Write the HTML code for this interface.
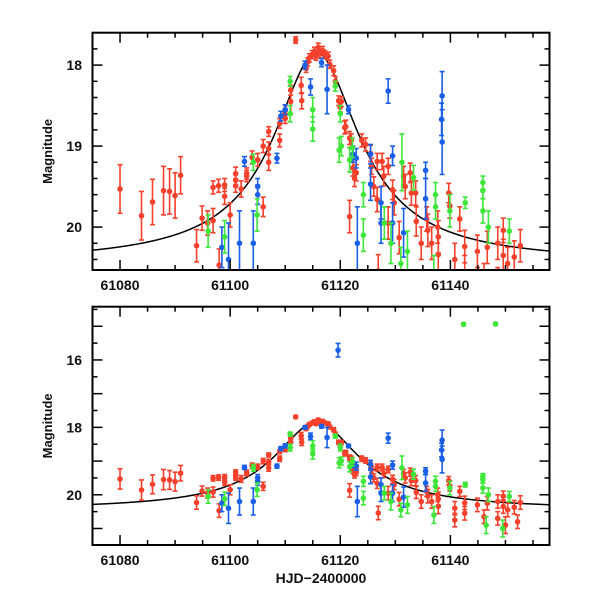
<!DOCTYPE html>
<html><head><meta charset="utf-8"><style>
html,body{margin:0;padding:0;background:#fff;}
svg text{font-family:"Liberation Sans",Arial,sans-serif;font-weight:bold;fill:#111;}
</style></head><body>
<svg id="chart" width="600" height="600" xmlns="http://www.w3.org/2000/svg"></svg>
<script>
// ---- data: [HJD-2400000, magnitude, error] ----
const redT=[61080,61083.9,61085.9,61087.9,61089,61090,61091,61093.9,61094.9,61095.9,61096.9,61096.9,61097.9,61098,61099,61099,61100,61101,61101,61101,61102,61103,61103,61104,61105,61106,61106,61107,61107,61107,61109,61109,61110,61110,61111,61111,61111.9,61112.9,61113,61113.8,61114.1,61114.4,61114.9,61115.3,61115.6,61116,61116.3,61116.8,61117.2,61117.8,61118.1,61118.8,61119.1,61119.7,61120,61120.2,61120.8,61121,61121.7,61121.7,61122,61122.3,61122.6,61122.9,61123.9,61124.6,61125.5,61125.7,61126.1,61126.7,61126.7,61126.9,61127.6,61127.9,61128.7,61128.7,61129.5,61129.8,61130.7,61131.5,61131.8,61132.7,61132.9,61133.7,61133.8,61134.7,61135.7,61135.9,61136.6,61137.7,61137.8,61137.8,61139.7,61139.9,61140.8,61140.8,61141.7,61142.6,61142.6,61144.9,61146.1,61146.7,61148.6,61148.6,61149.6,61149.6,61150,61150.4,61151.6,61152.7,61152.2];
const redM=[19.53,19.86,19.69,19.55,19.56,19.61,19.36,20.23,19.89,19.95,19.51,19.92,19.49,20.47,19.48,19.62,19.85,19.34,19.42,19.49,19.53,19.34,19.37,19.14,19.17,19.0,19.75,18.82,19.03,19.2,18.72,18.93,18.66,18.56,18.31,18.45,17.69,18.25,18.44,18.04,17.96,17.91,17.87,17.83,17.89,17.78,17.86,17.82,17.87,17.89,17.99,18.07,18.2,18.44,18.52,18.45,18.77,18.76,18.9,19.87,18.93,19.27,19.4,19.33,18.93,18.98,19.09,19.25,19.5,19.19,19.66,20.54,19.19,19.37,19.25,19.95,19.54,19.7,20.13,19.37,19.5,19.33,19.58,19.58,19.93,20.2,19.9,20.04,20.2,20.0,20.34,20.12,19.58,19.74,20.4,20.75,19.9,20.24,20.55,20.3,20.65,20.25,20.2,20.7,20.04,20.35,20.9,20.45,20.37,20.23,20.8];
const redE=[0.3,0.3,0.28,0.3,0.28,0.28,0.23,0.2,0.15,0.15,0.08,0.15,0.08,0.2,0.08,0.1,0.15,0.08,0.08,0.08,0.1,0.07,0.07,0.08,0.08,0.08,0.12,0.06,0.08,0.1,0.06,0.08,0.06,0.06,0.06,0.15,0.04,0.1,0.1,0.05,0.05,0.05,0.05,0.05,0.05,0.05,0.05,0.05,0.05,0.05,0.05,0.06,0.06,0.06,0.06,0.06,0.08,0.08,0.08,0.2,0.08,0.1,0.1,0.1,0.08,0.08,0.1,0.1,0.12,0.1,0.15,0.2,0.1,0.12,0.1,0.2,0.12,0.15,0.2,0.12,0.15,0.12,0.15,0.15,0.18,0.2,0.15,0.2,0.2,0.2,0.22,0.2,0.12,0.15,0.2,0.2,0.15,0.2,0.2,0.2,0.2,0.2,0.2,0.2,0.15,0.2,0.25,0.2,0.2,0.2,0.2];
const blueT=[61098.5,61099.7,61101.7,61104.2,61105,61105,61102.6,61108.5,61109.2,61110,61113.6,61114.6,61116.6,61117.6,61119.6,61121.5,61122.3,61122.9,61123.1,61125.5,61125.5,61127.4,61127.4,61128.7,61129.5,61129.5,61131.5,61135.5,61135.5,61138.5,61138.4,61138.5];
const blueM=[20.25,20.4,20.2,20.2,19.5,19.6,19.19,19.15,18.63,18.55,18.0,18.27,17.97,18.3,15.71,18.55,19.1,19.15,20.2,19.1,19.47,19.7,19.95,18.32,19.12,19.95,20.07,19.3,19.65,18.38,18.67,18.95];
const blueE=[0.25,0.45,0.4,0.4,0.1,0.12,0.06,0.06,0.06,0.06,0.05,0.1,0.05,0.3,0.2,0.05,0.1,0.12,0.45,0.12,0.2,0.2,0.25,0.15,0.12,0.25,0.3,0.1,0.25,0.3,0.2,0.4];
const greenT=[61096,61099,61104.2,61104.9,61110.9,61110.9,61115,61115,61119.1,61119.8,61120,61121.7,61120.2,61122.2,61124.2,61124.2,61128,61129.2,61131.2,61132.2,61133.3,61137.3,61137.3,61139.9,61142.7,61142.4,61145.9,61145.9,61145.9,61146.9,61146.5,61148.2,61149.5,61150.7,61137,61131];
const greenM=[20.05,20.12,19.2,19.85,18.2,18.6,18.55,18.79,18.26,19.05,18.6,19.17,19.0,19.02,19.6,20.1,19.95,20.2,19.2,20.3,19.39,19.6,19.75,19.8,19.7,14.94,19.45,19.55,19.8,20.0,20.9,14.93,21.0,20.05,20.6,20.45];
const greenE=[0.2,0.2,0.1,0.2,0.06,0.1,0.15,0.15,0.06,0.15,0.1,0.15,0.12,0.12,0.15,0.2,0.2,0.25,0.35,0.25,0.15,0.15,0.15,0.2,0.07,0.04,0.08,0.1,0.15,0.2,0.25,0.04,0.25,0.15,0.25,0.2];
// model parameters (smooth fitted curve)
const modelT0=61115.7, modelBase=20.45, modelDepth=2.6, modelWidth=9.0, modelPow=0.9;
const xTickLabels=[61080,61100,61120,61140];
const topYTickLabels=[18,19,20];
const botYTickLabels=[16,18,20];

const NS="http://www.w3.org/2000/svg";
const svg=document.getElementById('chart');
function mk(tag,attrs,parent){const e=document.createElementNS(NS,tag);for(const k in attrs)e.setAttribute(k,attrs[k]);(parent||svg).appendChild(e);return e;}
const COLORS={red:'#f5402c',blue:'#1a5fe8',green:'#3ee63a'};

function panel(name,top,bottom,yMin,yMax,minorStep,yLabels,showXTitle){
  const L=92.5,R=549.5,xMin=61075,xMax=61158;
  const xs=t=>L+(t-xMin)/(xMax-xMin)*(R-L);
  const ys=m=>top+(m-yMin)/(yMax-yMin)*(bottom-top);
  const g=mk('g',{});
  
  
  const cid='clip-'+name;
  const cp=mk('clipPath',{id:cid},g);mk('rect',{x:L,y:top,width:R-L,height:bottom-top},cp);
  const plot=mk('g',{'clip-path':'url(#'+cid+')'},g);
  let d='';
  for(let t=xMin;t<=xMax;t+=0.25){const q=(t-modelT0)/modelWidth;const m=modelBase-modelDepth/Math.pow(1+q*q,modelPow);d+=(d?'L':'M')+xs(t).toFixed(2)+','+ys(m).toFixed(2);}
  const curve=mk('path',{d:d,fill:'none',stroke:'#000','stroke-width':1.5},plot);
  
  
  const sets=[['red',redT,redM,redE],['blue',blueT,blueM,blueE],['green',greenT,greenM,greenE]];
  sets.forEach(([c,T,M,E])=>{
    const sg=mk('g',{stroke:COLORS[c],fill:COLORS[c]},plot);
    
    
    for(let i=0;i<T.length;i++){
      const x=xs(T[i]),y1=ys(M[i]-E[i]),y2=ys(M[i]+E[i]),y=ys(M[i]);
      mk('line',{x1:x,x2:x,y1:y1,y2:y2,'stroke-width':1.6},sg);
      mk('line',{x1:x-2.5,x2:x+2.5,y1:y1,y2:y1,'stroke-width':1.6},sg);
      mk('line',{x1:x-2.5,x2:x+2.5,y1:y2,y2:y2,'stroke-width':1.6},sg);
      const p=mk('circle',{cx:x,cy:y,r:2.8,stroke:'none'},sg);
      
      
    }
  });
  const fr=mk('rect',{x:L,y:top,width:R-L,height:bottom-top,fill:'none',stroke:'#000','stroke-width':2},g);
  
  
  for(let t=61075;t<=xMax;t+=5){const x=xs(t);const big=(t%20===0);const len=big?10:5;
    mk('line',{x1:x,x2:x,y1:bottom,y2:bottom-len,stroke:'#000','stroke-width':1.5},g);
    mk('line',{x1:x,x2:x,y1:top,y2:top+len,stroke:'#000','stroke-width':1.5},g);}
  xTickLabels.forEach(v=>{const tx=mk('text',{x:xs(v),y:bottom+20,'text-anchor':'middle','font-size':14},g);tx.textContent=v;
    
    });
  const start=Math.ceil(yMin/minorStep-1e-6)*minorStep;
  for(let m=start;m<=yMax+1e-6;m+=minorStep){const y=ys(m);const big=yLabels.some(v=>Math.abs(v-m)<1e-6)||Math.abs(m-Math.round(m))<1e-6;const len=big?10:5;
    mk('line',{x1:L,x2:L+len,y1:y,y2:y,stroke:'#000','stroke-width':1.5},g);
    mk('line',{x1:R,x2:R-len,y1:y,y2:y,stroke:'#000','stroke-width':1.5},g);}
  yLabels.forEach(v=>{const tx=mk('text',{x:82,y:ys(v)+5,'text-anchor':'end','font-size':14},g);tx.textContent=v;
    
    });
  const yt=mk('text',{x:0,y:0,'text-anchor':'middle','font-size':13,transform:'translate(52,'+((top+bottom)/2)+') rotate(-90)'},g);
  yt.textContent='Magnitude';
  
  
  if(showXTitle){const xt=mk('text',{x:(L+R)/2,y:583,'text-anchor':'middle','font-size':14},g);xt.textContent='HJD\u22122400000';
    
    }
}
panel('top-panel',32.7,270,17.6,20.53,0.2,topYTickLabels,false);
panel('bottom-panel',306.7,545,14.42,21.49,0.5,botYTickLabels,true);
</script>
</body></html>
